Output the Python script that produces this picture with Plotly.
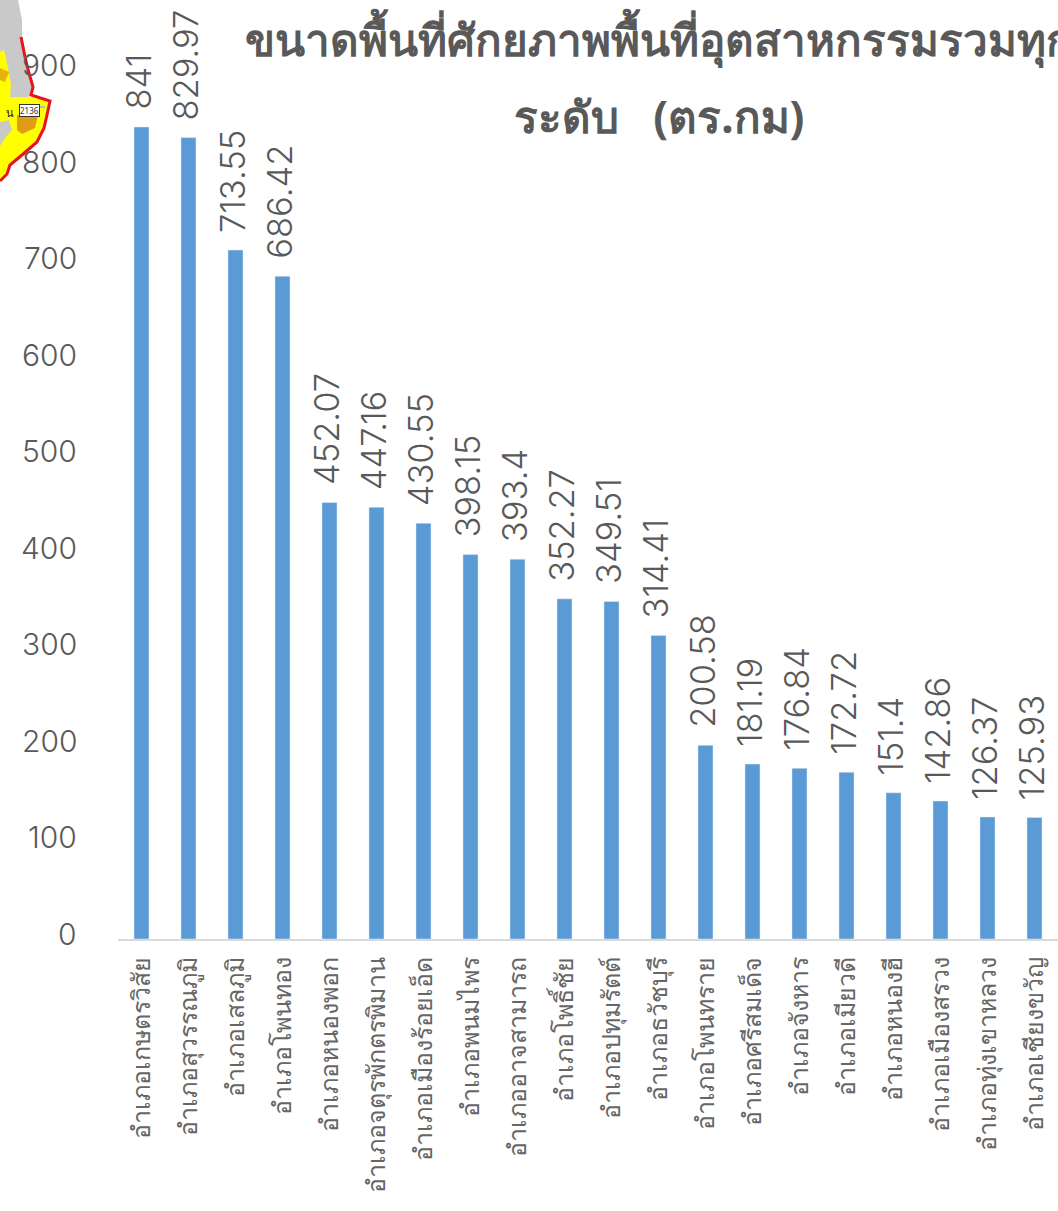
import plotly.graph_objects as go

# ขนาดพื้นที่ศักยภาพ แยกตามอำเภอ
amphoe = ["อำเภอเกษตรวิสัย", "อำเภอสุวรรณภูมิ", "อำเภอเสลภูมิ", "อำเภอโพนทอง", "อำเภอหนองพอก",
          "อำเภอจตุรพักตรพิมาน", "อำเภอเมืองร้อยเอ็ด", "อำเภอพนมไพร", "อำเภออาจสามารถ", "อำเภอโพธิ์ชัย",
          "อำเภอปทุมรัตต์", "อำเภอธวัชบุรี", "อำเภอโพนทราย", "อำเภอศรีสมเด็จ", "อำเภอจังหาร",
          "อำเภอเมียวดี", "อำเภอหนองฮี", "อำเภอเมืองสรวง", "อำเภอทุ่งเขาหลวง", "อำเภอเชียงขวัญ"]
area = [841, 829.97, 713.55, 686.42, 452.07, 447.16, 430.55, 398.15, 393.4, 352.27,
        349.51, 314.41, 200.58, 181.19, 176.84, 172.72, 151.4, 142.86, 126.37, 125.93]
y_ticks = [0, 100, 200, 300, 400, 500, 600, 700, 800, 900]
title_line1 = "ขนาดพื้นที่ศักยภาพพื้นที่อุตสาหกรรมรวมทุก"
title_line2 = "ระดับ\u00a0\u00a0\u00a0(ตร.กม)"

W, H = 1058, 1211
ML, MR, MT, MB = 118, 0, 0, 272
FONT = "Noto Sans, Noto Sans CJK SC, sans-serif"
NUM_FONT = "Inter, Noto Sans, sans-serif"
GREY = "#595959"


# ตำแหน่ง pixel -> paper (ใช้กับรูปแผนที่มุมซ้ายบนเท่านั้น)
def path(points):
    out = []
    for i, (px, py) in enumerate(points):
        xp = (px - ML) / (W - ML - MR)
        yp = 1 - (py - MT) / (H - MT - MB)
        out.append(("M" if i == 0 else "L") + f"{xp:.5f},{yp:.5f}")
    return " ".join(out) + " Z"


def blob(points, fill, line=None, width=0):
    return dict(type="path", xref="paper", yref="paper", path=path(points), fillcolor=fill,
                line=dict(color=line or fill, width=width), layer="below")


gray_land = [(0, 0), (18, 0), (22, 20), (22, 36), (26, 55), (33, 87), (28, 98), (0, 98)]
yellow_land = [(0, 97), (30, 97), (50, 101), (47, 115), (44, 128), (37, 142), (22, 155), (10, 165), (7, 174), (0, 180)]
yellow_north = [(0, 52), (4, 50), (8, 68), (11, 85), (10, 97), (0, 97)]
orange_a = [(17, 115), (38, 115), (35, 128), (22, 134), (17, 130)]
orange_b = [(0, 68), (9, 72), (5, 82), (0, 80)]
gray_pocket = [(0, 122), (9, 120), (12, 130), (5, 138), (0, 146)]
road = [(27, 106), (45, 106), (45, 108), (27, 108)]
red_line = [(21, 37), (24, 52), (27, 66), (33, 87), (31, 95), (50, 101), (47, 115), (44, 128), (37, 142),
            (22, 155), (10, 165), (7, 174), (0, 181), (7, 174), (10, 165), (22, 155), (37, 142), (44, 128),
            (47, 115), (50, 101), (31, 95), (33, 87), (27, 66), (24, 52)]

shapes = [blob(gray_land, "#C9C9C9"), blob(yellow_land, "#FFFF00"), blob(yellow_north, "#FFFF00"),
          blob(orange_a, "#E09B17"), blob(orange_b, "#E8B010"), blob(gray_pocket, "#C9C9C9"),
          blob(road, "#B8B8C8"), blob(red_line, "#E8141C", "#E8141C", 3)]

fig = go.Figure(go.Bar(x=amphoe, y=area, marker_color="#5B9BD5", width=0.32, cliponaxis=False))

annotations = []
# ค่าบนแท่ง
for name, value in zip(amphoe, area):
    annotations.append(dict(x=name, y=value, xref="x", yref="y", text=f"{value:g}", textangle=-90,
                            showarrow=False, yanchor="bottom", yshift=15, xshift=-3,
                            font=dict(family=NUM_FONT, size=34.5, color=GREY, weight=300)))
# ป้ายแกน y ยกขึ้นเล็กน้อยเหมือนต้นฉบับ
for t in y_ticks:
    annotations.append(dict(x=0, y=t, xref="paper", yref="y", text=str(t), showarrow=False,
                            xanchor="right", xshift=-39, yshift=5,
                            font=dict(family=NUM_FONT, size=30, color=GREY, weight=300)))
annotations.append(dict(x=(243 - ML) / (W - ML), y=1 - 6 / (H - MB), xref="paper", yref="paper", text=f"<b>{title_line1}</b>",
                        showarrow=False, xanchor="left", font=dict(family=FONT, size=44, color=GREY)))
annotations.append(dict(x=(659 - ML) / (W - ML), y=1 - 84 / (H - MB), xref="paper", yref="paper", text=f"<b>{title_line2}</b>",
                        showarrow=False, xanchor="center", font=dict(family=FONT, size=44, color=GREY)))
# ป้ายบนแผนที่
annotations.append(dict(x=(19 - ML) / (W - ML), y=1 - 104 / (H - MB), xref="paper", yref="paper", text="2136",
                        showarrow=False, bgcolor="white", bordercolor="#333333", borderwidth=1, borderpad=0,
                        font=dict(family=FONT, size=8, color="#333333")))
annotations.append(dict(x=(4 - ML) / (W - ML), y=1 - 103 / (H - MB), xref="paper", yref="paper", text="น",
                        showarrow=False, font=dict(family=FONT, size=11, color="#222222")))

fig.update_layout(
    width=W, height=H, margin=dict(l=ML, r=MR, t=MT, b=MB, autoexpand=False),
    paper_bgcolor="white", plot_bgcolor="rgba(0,0,0,0)", showlegend=False,
    shapes=shapes, annotations=annotations,
    font=dict(family=FONT, color=GREY),
)
fig.update_xaxes(type="category", range=[-0.5, 19.5], tickangle=-90, tickfont=dict(family=FONT, size=25, color="#666666"),
                 showline=True, linecolor="#D9D9D9", linewidth=2, ticks="", showgrid=False, ticklabelstandoff=6)
fig.update_yaxes(range=[0, 972.5], tickvals=y_ticks, showticklabels=False, showgrid=False, zeroline=False, ticks="")

fig.write_html("out.html", config={"displayModeBar": False},
               post_script="document.body.style.margin='0';document.body.style.overflow='hidden';")
